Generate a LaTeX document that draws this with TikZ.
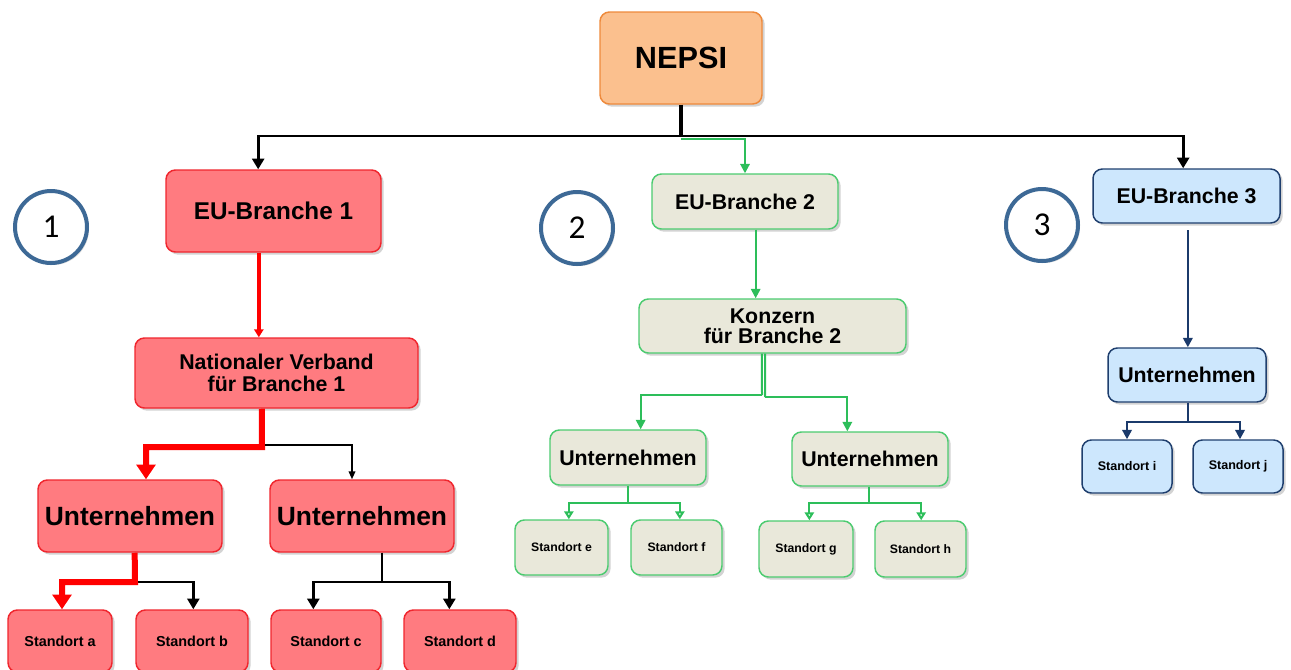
\documentclass[tikz,border=0pt]{standalone}
\usepackage{fontspec}
\setmainfont{Liberation Sans}
\newfontfamily\numfont{Carlito}
\usetikzlibrary{arrows.meta,shadows,calc}
\definecolor{orfill}{HTML}{FBC08E}
\definecolor{ordraw}{HTML}{EE8A3C}
\definecolor{rdfill}{HTML}{FF7B80}
\definecolor{rddraw}{HTML}{F0262E}
\definecolor{rdline}{HTML}{FF0000}
\definecolor{grfill}{HTML}{E9E8DA}
\definecolor{grdraw}{HTML}{4CCB70}
\definecolor{grline}{HTML}{2DBE5A}
\definecolor{blfill}{HTML}{CDE7FD}
\definecolor{bldraw}{HTML}{1F3F6E}
\definecolor{blline}{HTML}{1B3A6B}
\definecolor{circ}{HTML}{3D6996}
\tikzset{
  sz/.style 2 args={minimum width=#1*0.75pt, minimum height=#2*0.75pt},
  fs/.style={font=\bfseries\fontsize{#1}{#1}\selectfont},
  box/.style={rounded corners=7pt, inner sep=0pt, line width=1.1pt, align=center,
    drop shadow={opacity=0.35, shadow xshift=2pt, shadow yshift=-2pt}},
  orbox/.style={box, fill=orfill, draw=ordraw},
  rdbox/.style={box, fill=rdfill, draw=rddraw},
  grbox/.style={box, fill=grfill, draw=grdraw},
  blbox/.style={box, fill=blfill, draw=bldraw},
  numcirc/.style={circle, draw=circ, fill=white, line width=3pt, minimum size=54pt,
    inner sep=0pt, font=\numfont\fontsize{25}{25}\selectfont,
    drop shadow={opacity=0.3, shadow xshift=1.5pt, shadow yshift=-1.5pt}},
  blk/.style={black, line width=2pt, -{Triangle[width=9pt,length=8pt]}},
  blkthin/.style={black, line width=1.2pt, -{Triangle[width=5pt,length=6pt]}},
  rdthick/.style={rdline, line width=4.5pt, -{Triangle[width=14pt,length=11pt]}},
  rdthin/.style={rdline, line width=3pt, -{Triangle[width=7pt,length=6pt]}},
  grn/.style={grline, line width=1.5pt, -{Triangle[width=7pt,length=7pt]}},
  grnopen/.style={grline, line width=1.5pt, -{Triangle[open,width=7pt,length=6pt]}},
  blu/.style={blline, line width=1.8pt, -{Triangle[width=7pt,length=7pt]}},
}
\begin{document}
\begin{tikzpicture}[x=0.75pt,y=-0.75pt]
\useasboundingbox (0,0) rectangle (1291,669);
% top
\node[orbox, sz={162}{92}, fs=23] (nepsi) at (681,58) {NEPSI};
% branch 1
\node[rdbox, sz={215}{82}, fs=18.2] (eu1) at (273.5,211) {EU-Branche 1};
\node[rdbox, sz={283}{70}, fs=16] (nv) at (276.5,373) {Nationaler Verband\\für Branche 1};
\node[rdbox, sz={184}{72}, fs=19.8] (ua) at (130,516) {Unternehmen};
\node[rdbox, sz={184}{72}, fs=19.8] (ub) at (362,516) {Unternehmen};
\node[rdbox, sz={104}{62}, fs=10.8] (sa) at (60,641) {Standort a};
\node[rdbox, sz={112}{62}, fs=10.8] (sb) at (192,641) {Standort b};
\node[rdbox, sz={110}{62}, fs=10.8] (sc) at (326,641) {Standort c};
\node[rdbox, sz={112}{62}, fs=10.8] (sd) at (460,641) {Standort d};
% branch 2
\node[grbox, sz={186}{55}, fs=16] (eu2) at (745,201.5) {EU-Branche 2};
\node[grbox, sz={267}{54}, font=\bfseries\fontsize{16}{15}\selectfont] (kz) at (772.5,326) {Konzern\\für Branche 2};
\node[grbox, sz={156}{55}, fs=16] (uc) at (628,457.5) {Unternehmen};
\node[grbox, sz={156}{54}, fs=16] (ud) at (870,459) {Unternehmen};
\node[grbox, sz={93}{55}, fs=9.2] (se) at (561.5,547.5) {Standort e};
\node[grbox, sz={91}{55}, fs=9.2] (sf) at (676.5,547.5) {Standort f};
\node[grbox, sz={94}{56}, fs=9.2] (sg) at (806,549) {Standort g};
\node[grbox, sz={91}{56}, fs=9.2] (sh) at (920.5,549) {Standort h};
% branch 3
\node[blbox, sz={187}{54}, fs=16] (eu3) at (1186.5,196) {EU-Branche 3};
\node[blbox, sz={158}{54}, fs=16] (ue) at (1187,375) {Unternehmen};
\node[blbox, sz={90}{53}, fs=9.4] (si) at (1127,466.5) {Standort i};
\node[blbox, sz={90}{53}, fs=9.4] (sj) at (1238,466.5) {Standort j};
% circles
\node[numcirc] (c1) at (51,227) {1};
\node[numcirc] (c2) at (577,228) {2};
\node[numcirc] (c3) at (1042,225) {3};
% top connectors
\coordinate (bus) at (681,136);
\coordinate (gbus) at (681,139);
\draw[grn] (gbus) -| (eu2.north);
\draw[blk] (bus) -| ([xshift=-11.5pt]eu1.north);
\draw[blk] (bus) -| ([xshift=-2.5pt]eu3.north);
\draw[black, line width=3.5pt] (nepsi.south) -- ([yshift=-1pt]bus);
% branch 1 connectors
\draw[rdthin] ([xshift=-11pt]eu1.south) -- ([xshift=-11pt]eu1.south |- nv.north);
\coordinate (j1) at (262,445);
\draw[blkthin] (j1) -| ([xshift=-7.5pt]ub.north);
\draw[rdthick] ([xshift=-11pt]nv.south) -- ([yshift=-1.5pt]j1) -| ([xshift=12pt]ua.north);
\coordinate (j2) at (135,582);
\draw[blk, line width=1.8pt] (j2) -| ([xshift=1pt]sb.north);
\draw[rdthick] ([xshift=3.5pt]ua.south) -- (j2) -| ([xshift=1.5pt]sa.north);
\coordinate (j3) at (382,582);
\draw[black, line width=2pt] ([xshift=15pt]ub.south) -- (j3);
\draw[blk] (j3) -| ([xshift=-9.5pt]sc.north);
\draw[blk] (j3) -| ([xshift=-8pt]sd.north);
% branch 2 connectors
\draw[grn] ([xshift=8pt]eu2.south) -- ([xshift=8pt]eu2.south |- kz.north);
\coordinate (j4) at (762,395);
\coordinate (j4b) at (765,397);
\draw[grline, line width=1.5pt] ([xshift=-8pt]kz.south) -- (j4);
\draw[grline, line width=1.5pt] ([xshift=-5.5pt]kz.south) -- (j4b);
\draw[grn] (j4) -| ([xshift=9.5pt]uc.north);
\draw[grn] (j4b) -| ([xshift=-17pt]ud.north);
\coordinate (j5) at (628,503);
\draw[grline, line width=1.5pt] (uc.south) -- (j5);
\draw[grnopen] (j5) -| ([xshift=5.5pt]se.north);
\draw[grnopen] (j5) -| ([xshift=2.5pt]sf.north);
\coordinate (j6) at (869,503);
\draw[grline, line width=1.5pt] ([xshift=-0.75pt]ud.south) -- (j6);
\draw[grnopen] (j6) -| ([xshift=2.5pt]sg.north);
\draw[grnopen] (j6) -| ([xshift=0.5pt]sh.north);
% branch 3 connectors
\draw[blu] ([xshift=1pt,yshift=-5pt]eu3.south) -- ([xshift=1pt]eu3.south |- ue.north);
\coordinate (j7) at (1188,422);
\draw[blline, line width=1.8pt] ([xshift=0.75pt]ue.south) -- (j7);
\draw[blu] (j7) -| (si.north);
\draw[blu] (j7) -| ([xshift=1.5pt]sj.north);
\end{tikzpicture}
\end{document}
